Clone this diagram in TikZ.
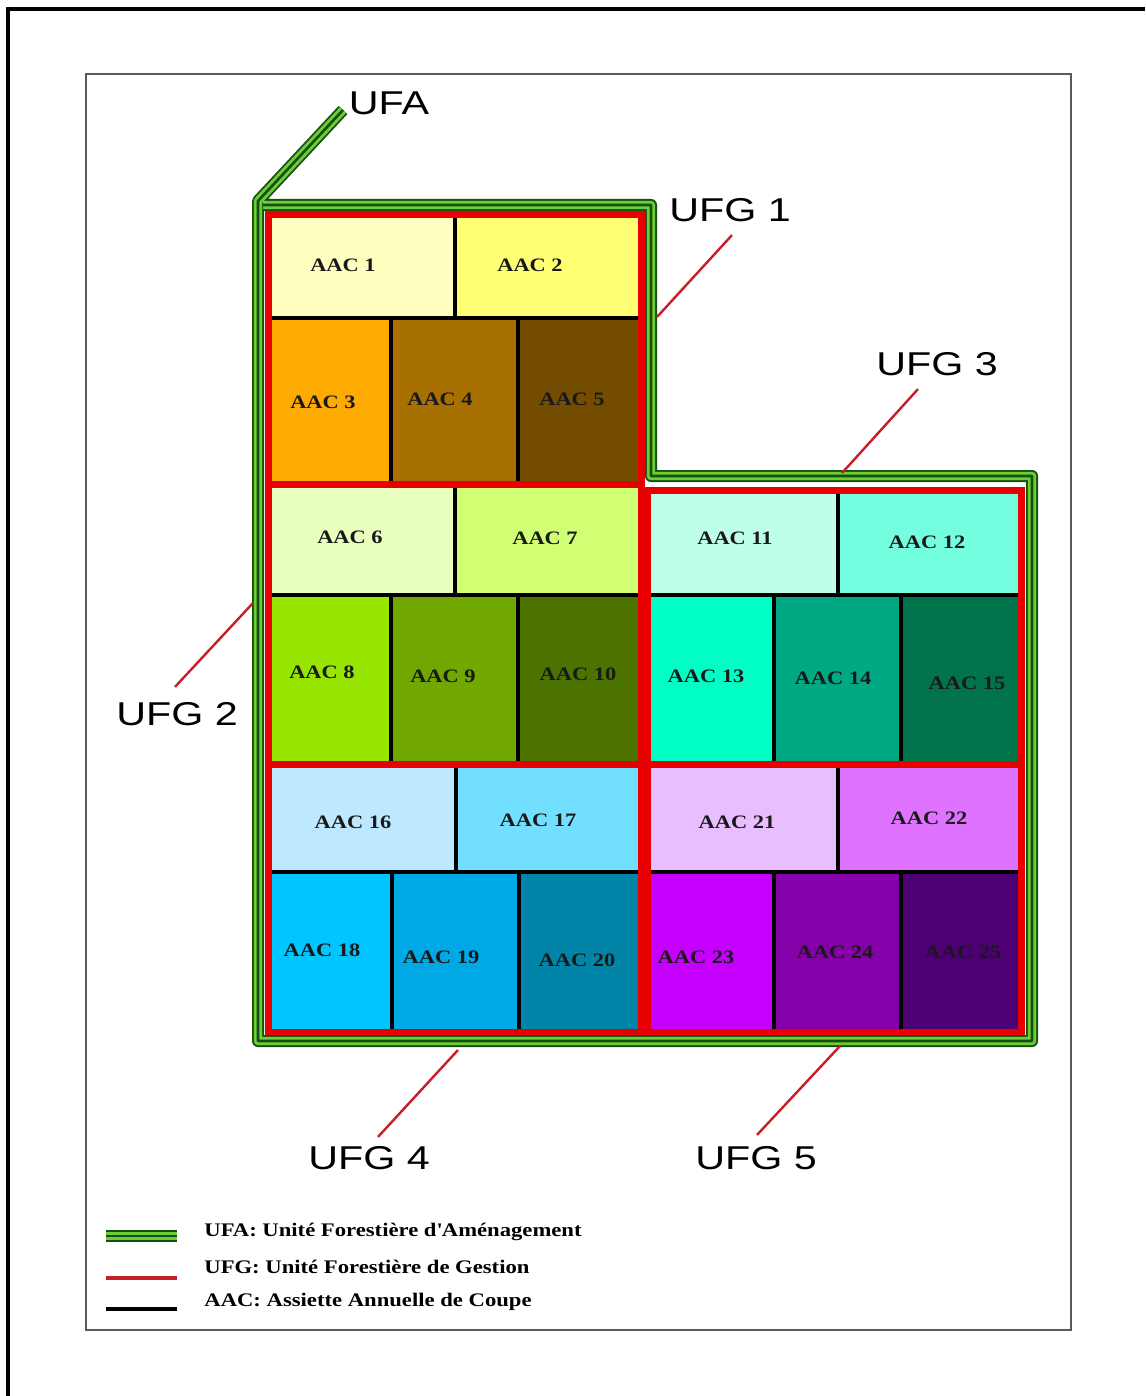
\documentclass[tikz,border=0pt]{standalone}
\usepackage{fontspec}
\setmainfont{Liberation Serif}
\newfontfamily\ufgfont[FakeStretch=1.25]{Liberation Sans}
\newfontfamily\aacfont[FakeStretch=1.18]{Liberation Serif}
\usepackage{tikz}

\definecolor{c1}{RGB}{255,255,192}
\definecolor{c2}{RGB}{255,255,115}
\definecolor{c3}{RGB}{255,170,0}
\definecolor{c4}{RGB}{168,112,0}
\definecolor{c5}{RGB}{115,76,0}
\definecolor{c6}{RGB}{233,255,190}
\definecolor{c7}{RGB}{209,255,115}
\definecolor{c8}{RGB}{152,230,0}
\definecolor{c9}{RGB}{112,168,0}
\definecolor{c10}{RGB}{76,115,0}
\definecolor{c11}{RGB}{190,255,232}
\definecolor{c12}{RGB}{115,255,223}
\definecolor{c13}{RGB}{0,255,197}
\definecolor{c14}{RGB}{0,168,132}
\definecolor{c15}{RGB}{0,115,76}
\definecolor{c16}{RGB}{190,232,255}
\definecolor{c17}{RGB}{115,223,255}
\definecolor{c18}{RGB}{0,197,255}
\definecolor{c19}{RGB}{0,168,230}
\definecolor{c20}{RGB}{0,132,168}
\definecolor{c21}{RGB}{232,190,255}
\definecolor{c22}{RGB}{223,115,255}
\definecolor{c23}{RGB}{197,0,255}
\definecolor{c24}{RGB}{132,0,168}
\definecolor{c25}{RGB}{76,0,115}
\definecolor{ufgred}{RGB}{232,0,0}
\definecolor{leadred}{RGB}{200,30,40}
\definecolor{ufadark}{RGB}{20,80,15}
\definecolor{ufalight}{RGB}{110,205,55}
\definecolor{framegray}{RGB}{90,90,90}

\begin{document}
\begin{tikzpicture}[
  x=0.5pt, y=-0.5pt,
  cell/.style={draw=black, line width=1.8pt},
  ufgline/.style={draw=ufgred, line width=3.5pt},
  ufa/.style={draw=ufadark, line width=6pt, line join=round,
    postaction={draw=ufalight, line width=4.2pt, line join=round},
    postaction={draw=ufadark, line width=1.3pt, line join=round}},
  leader/.style={draw=leadred, line width=1.2pt},
  aac/.style={font=\aacfont\bfseries\fontsize{9.5}{11}\selectfont, text=black!90, inner sep=0pt},
  ufg/.style={font=\ufgfont\fontsize{16.5}{18}\selectfont, inner sep=0pt},
  legtext/.style={font=\aacfont\bfseries\fontsize{9.6}{11}\selectfont, inner sep=0pt, anchor=base west}
]
\useasboundingbox (0,0) rectangle (1145,1396);
\fill[white] (0,0) rectangle (1145,1396);
\draw[line width=1.6pt] (8,1396) -- (8,9) -- (1145,9);
\draw[framegray, line width=1pt] (86,74) rectangle (1071,1330);

\filldraw[cell, fill=c1] (268,215) rectangle (455,318);
\filldraw[cell, fill=c2] (455,215) rectangle (641,318);
\filldraw[cell, fill=c3] (268,318) rectangle (391,484);
\filldraw[cell, fill=c4] (391,318) rectangle (518,484);
\filldraw[cell, fill=c5] (518,318) rectangle (641,484);
\filldraw[cell, fill=c6] (268,484) rectangle (455,595);
\filldraw[cell, fill=c7] (455,484) rectangle (641,595);
\filldraw[cell, fill=c8] (268,595) rectangle (391,764);
\filldraw[cell, fill=c9] (391,595) rectangle (518,764);
\filldraw[cell, fill=c10] (518,595) rectangle (641,764);
\filldraw[cell, fill=c11] (647,490) rectangle (838,595);
\filldraw[cell, fill=c12] (838,490) rectangle (1021,595);
\filldraw[cell, fill=c13] (647,595) rectangle (774,764);
\filldraw[cell, fill=c14] (774,595) rectangle (901,764);
\filldraw[cell, fill=c15] (901,595) rectangle (1021,764);
\filldraw[cell, fill=c16] (268,764) rectangle (456,872);
\filldraw[cell, fill=c17] (456,764) rectangle (641,872);
\filldraw[cell, fill=c18] (268,872) rectangle (392,1032);
\filldraw[cell, fill=c19] (392,872) rectangle (519,1032);
\filldraw[cell, fill=c20] (519,872) rectangle (641,1032);
\filldraw[cell, fill=c21] (647,764) rectangle (838,872);
\filldraw[cell, fill=c22] (838,764) rectangle (1021,872);
\filldraw[cell, fill=c23] (647,872) rectangle (774,1032);
\filldraw[cell, fill=c24] (774,872) rectangle (901,1032);
\filldraw[cell, fill=c25] (901,872) rectangle (1021,1032);

\draw[ufgline] (268,215) rectangle (641,484);
\draw[ufgline] (268,484) rectangle (641,764);
\draw[ufgline] (647,490) rectangle (1021,764);
\draw[ufgline] (268,764) rectangle (641,1032);
\draw[ufgline] (647,764) rectangle (1021,1032);

\draw[ufa] (343,110) -- (258,201) -- (258,1041) -- (1032,1041) -- (1032,476)
  -- (651,476) -- (651,205) -- (263,205);

\node[aac] (aac1) at (343,265) {AAC 1};
\node[aac] (aac2) at (530,265) {AAC 2};
\node[aac] (aac3) at (323,402) {AAC 3};
\node[aac] (aac4) at (440,399) {AAC 4};
\node[aac] (aac5) at (572,399) {AAC 5};
\node[aac] (aac6) at (350,537) {AAC 6};
\node[aac] (aac7) at (545,538) {AAC 7};
\node[aac] (aac8) at (322,672) {AAC 8};
\node[aac] (aac9) at (443,676) {AAC 9};
\node[aac] (aac10) at (578,674) {AAC 10};
\node[aac] (aac11) at (735,538) {AAC 11};
\node[aac] (aac12) at (927,542) {AAC 12};
\node[aac] (aac13) at (706,676) {AAC 13};
\node[aac] (aac14) at (833,678) {AAC 14};
\node[aac] (aac15) at (967,683) {AAC 15};
\node[aac] (aac16) at (353,822) {AAC 16};
\node[aac] (aac17) at (538,820) {AAC 17};
\node[aac] (aac18) at (322,950) {AAC 18};
\node[aac] (aac19) at (441,957) {AAC 19};
\node[aac] (aac20) at (577,960) {AAC 20};
\node[aac] (aac21) at (737,822) {AAC 21};
\node[aac] (aac22) at (929,818) {AAC 22};
\node[aac] (aac23) at (696,957) {AAC 23};
\node[aac] (aac24) at (835,952) {AAC 24};
\node[aac] (aac25) at (963,952) {AAC 25};

\node[ufg] (ufa) at (389,103) {UFA};
\node[ufg] (ufg1) at (730,210) {UFG 1};
\node[ufg] (ufg2) at (177,714) {UFG 2};
\node[ufg] (ufg3) at (937,364) {UFG 3};
\node[ufg] (ufg4) at (369,1158) {UFG 4};
\node[ufg] (ufg5) at (756,1158) {UFG 5};

\coordinate (p1) at (657,317);
\coordinate (p2) at (253,603);
\coordinate (p3) at (842,473);
\coordinate (p4) at (458,1050);
\coordinate (p5) at (840,1046);
\draw[leader] ([shift={(2,13)}]ufg1.south) -- (p1);
\draw[leader] ([shift={(-2,-15)}]ufg2.north) -- (p2);
\draw[leader] ([shift={(-19,13)}]ufg3.south) -- (p3);
\draw[leader] ([shift={(9,-9)}]ufg4.north) -- (p4);
\draw[leader] ([shift={(1,-11)}]ufg5.north) -- (p5);

\draw[ufa] (106,1236) -- (177,1236);
\draw[leader, line width=1.6pt] (106,1278) -- (177,1278);
\draw[line width=1.8pt] (106,1309) -- (177,1309);
\node[legtext] (lgufa) at (204,1236) {UFA: Unité Forestière d\textquotesingle Aménagement};
\node[legtext] (lgufg) at (204,1273) {UFG: Unité Forestière de Gestion};
\node[legtext] (lgaac) at (204,1306) {AAC: Assiette Annuelle de Coupe};
\end{tikzpicture}
\end{document}
